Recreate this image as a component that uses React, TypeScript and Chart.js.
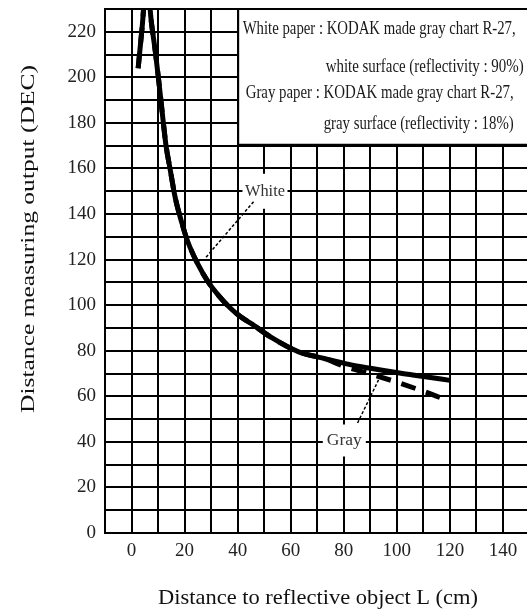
import React, { useEffect, useRef } from 'react';
import { Chart, registerables } from 'chart.js';

Chart.register(...registerables);

// ---- data ----
const whiteX = [2.5, 4, 5.7, 7.5, 9, 10.5, 12, 13, 14.5, 16.5, 19, 21, 25, 29, 33, 37, 41, 45, 53, 63, 73, 82, 90, 101, 110, 120];
const whiteY = [204, 222, 243, 224, 211, 196, 180, 170, 160, 147, 136, 128.5, 118, 110, 104, 99, 95, 92, 85.6, 79.5, 76.5, 74, 72.3, 70.2, 68.7, 67];

const grayX = [2.5, 4, 5.7, 7.5, 9, 10.5, 12, 13, 14.5, 16.5, 19, 21, 25, 29, 33, 37, 41, 45, 53, 63, 73, 80, 90, 100, 110, 120];
const grayY = [204, 222, 243, 224, 211, 196, 180, 170, 160, 147, 136, 128.5, 118, 110, 104, 99, 95, 92, 85.6, 79.5, 76.5, 73.2, 69.8, 66.2, 62.2, 57.8];

const xTickLabels = [0, 20, 40, 60, 80, 100, 120, 140];
const yTickLabels = [0, 20, 40, 60, 80, 100, 120, 140, 160, 180, 200, 220];

const legendLines = [
  'White paper : KODAK made gray chart R-27,',
  'white surface (reflectivity : 90%)',
  'Gray paper : KODAK made gray chart R-27,',
  'gray surface (reflectivity : 18%)',
];
const whiteLabel = 'White';
const grayLabel = 'Gray';
const xTitle = 'Distance to reflective object L (cm)';
const yTitle = 'Distance measuring output (DEC)';

// ---- layout / style ----
const W = 560;
const H = 613;
const FONT = '"Liberation Serif", "DejaVu Serif", "Times New Roman", serif';

const legendBox = { x: 40.2, y: 170.4 }; // lower-left corner in data units
const legendText = [
  { dx: 4.5, y: 34, w: 273 },
  { dx: 87.5, y: 72, w: 198 },
  { dx: 7.5, y: 98, w: 268 },
  { dx: 85.5, y: 129, w: 190 },
];

const whiteAnn = { cx: 50.3, cy: 150, bw: 45, bh: 35, tw: 40, from: [46, 145.4], to: [27.9, 120.8] };
const grayAnn = { cx: 80.2, cy: 40.6, bw: 43, bh: 32, tw: 35, from: [85.2, 48.3], to: [93.1, 67.2] };

function fitText(ctx: CanvasRenderingContext2D, text: string, x: number, y: number, font: string, w: number, align: CanvasTextAlign, baseline: CanvasTextBaseline) {
  ctx.save();
  ctx.font = font;
  const m = ctx.measureText(text).width;
  const s = w / m;
  ctx.translate(x, y);
  ctx.scale(s, 1);
  ctx.textAlign = align;
  ctx.textBaseline = baseline;
  ctx.fillText(text, 0, 0);
  ctx.restore();
}

const annotPlugin = {
  id: 'annot',
  beforeDraw(chart: any) {
    const { ctx } = chart;
    ctx.save();
    ctx.fillStyle = '#fff';
    ctx.fillRect(0, 0, chart.width, chart.height);
    ctx.restore();
  },
  afterDraw(chart: any) {
    const { ctx, chartArea: ca } = chart;
    const sx = chart.scales.x;
    const sy = chart.scales.y;
    const px = (v: number) => sx.getPixelForValue(v);
    const py = (v: number) => sy.getPixelForValue(v);

    ctx.save();
    // legend box
    const lx = px(legendBox.x);
    const ly = py(legendBox.y);
    ctx.fillStyle = '#fff';
    ctx.fillRect(lx, ca.top + 1, ca.right - lx + 40, ly - ca.top - 1);
    ctx.strokeStyle = '#000';
    ctx.lineWidth = 2;
    ctx.beginPath();
    ctx.moveTo(lx, ca.top);
    ctx.lineTo(lx, ly);
    ctx.lineTo(ca.right + 40, ly);
    ctx.stroke();

    ctx.fillStyle = '#1a1a1a';
    legendLines.forEach((t, i) => {
      const L = legendText[i];
      fitText(ctx, t, lx + L.dx, L.y, `18px ${FONT}`, L.w, 'left', 'alphabetic');
    });

    // annotation labels
    [
      { a: whiteAnn, t: whiteLabel },
      { a: grayAnn, t: grayLabel },
    ].forEach(({ a, t }) => {
      const cx = px(a.cx);
      const cy = py(a.cy);
      ctx.fillStyle = '#fff';
      ctx.fillRect(cx - a.bw / 2, cy - a.bh / 2, a.bw, a.bh);
      ctx.fillStyle = '#333';
      fitText(ctx, t, cx, cy, `17px ${FONT}`, a.tw, 'center', 'middle');
      ctx.strokeStyle = '#000';
      ctx.lineWidth = 1.5;
      ctx.setLineDash([3, 2]);
      ctx.beginPath();
      ctx.moveTo(px(a.from[0]), py(a.from[1]));
      ctx.lineTo(px(a.to[0]), py(a.to[1]));
      ctx.stroke();
      ctx.setLineDash([]);
    });

    // axis titles
    ctx.fillStyle = '#111';
    fitText(ctx, xTitle, 318, 604, `22px ${FONT}`, 320, 'center', 'alphabetic');
    ctx.save();
    ctx.translate(34, 239);
    ctx.rotate(-Math.PI / 2);
    fitText(ctx, yTitle, 0, 0, `18px ${FONT}`, 348, 'center', 'alphabetic');
    ctx.restore();

    ctx.restore();
  },
};

export default function App() {
  const ref = useRef<HTMLCanvasElement>(null);
  useEffect(() => {
    const canvas = ref.current;
    if (!canvas) return;
    const chart = new Chart(canvas, {
      type: 'line',
      data: {
        datasets: [
          {
            label: 'White',
            data: whiteX.map((x, i) => ({ x, y: whiteY[i] })),
            borderColor: '#000',
            borderWidth: 5,
            pointRadius: 0,
            cubicInterpolationMode: 'monotone',
            fill: false,
            clip: 0,
          },
          {
            label: 'Gray',
            data: grayX.map((x, i) => ({ x, y: grayY[i] })),
            borderColor: '#000',
            borderWidth: 5,
            borderDash: [15, 11],
            pointRadius: 0,
            cubicInterpolationMode: 'monotone',
            fill: false,
            clip: 0,
          },
        ],
      },
      options: {
        responsive: false,
        animation: false,
        devicePixelRatio: 1,
        layout: { padding: { top: 9, right: W - 529.5, left: 0, bottom: 0 } },
        plugins: { legend: { display: false }, tooltip: { enabled: false } },
        scales: {
          x: {
            type: 'linear',
            min: -10,
            max: 150,
            afterFit: (s: any) => {
              s.height = 80;
              s.paddingLeft = 0;
              s.paddingRight = 0;
              s.paddingTop = 0;
              s.paddingBottom = 0;
            },
            ticks: {
              stepSize: 10,
              autoSkip: false,
              maxRotation: 0,
              padding: 7,
              color: '#222',
              font: { family: FONT, size: 19 },
              callback: (v: any) => (xTickLabels.includes(Number(v)) ? String(v) : ''),
            },
            grid: { color: '#000', lineWidth: 2, drawTicks: false },
            border: { color: '#000', width: 2 },
          },
          y: {
            type: 'linear',
            min: 0,
            max: 230,
            afterFit: (s: any) => {
              s.width = 105;
              s.paddingLeft = 0;
              s.paddingRight = 0;
              s.paddingTop = 0;
              s.paddingBottom = 0;
            },
            ticks: {
              stepSize: 10,
              autoSkip: false,
              padding: 9,
              color: '#222',
              font: { family: FONT, size: 19 },
              callback: (v: any) => (yTickLabels.includes(Number(v)) ? String(v) : ''),
            },
            grid: { color: '#000', lineWidth: 2, drawTicks: false },
            border: { color: '#000', width: 2 },
          },
        },
      },
      plugins: [annotPlugin],
    } as any);
    return () => chart.destroy();
  }, []);

  return (
    <div style={{ position: 'fixed', left: 0, top: 0, width: 527, height: 613, overflow: 'hidden', background: '#fff' }}>
      <canvas ref={ref} width={W} height={H} style={{ display: 'block' }} />
    </div>
  );
}
